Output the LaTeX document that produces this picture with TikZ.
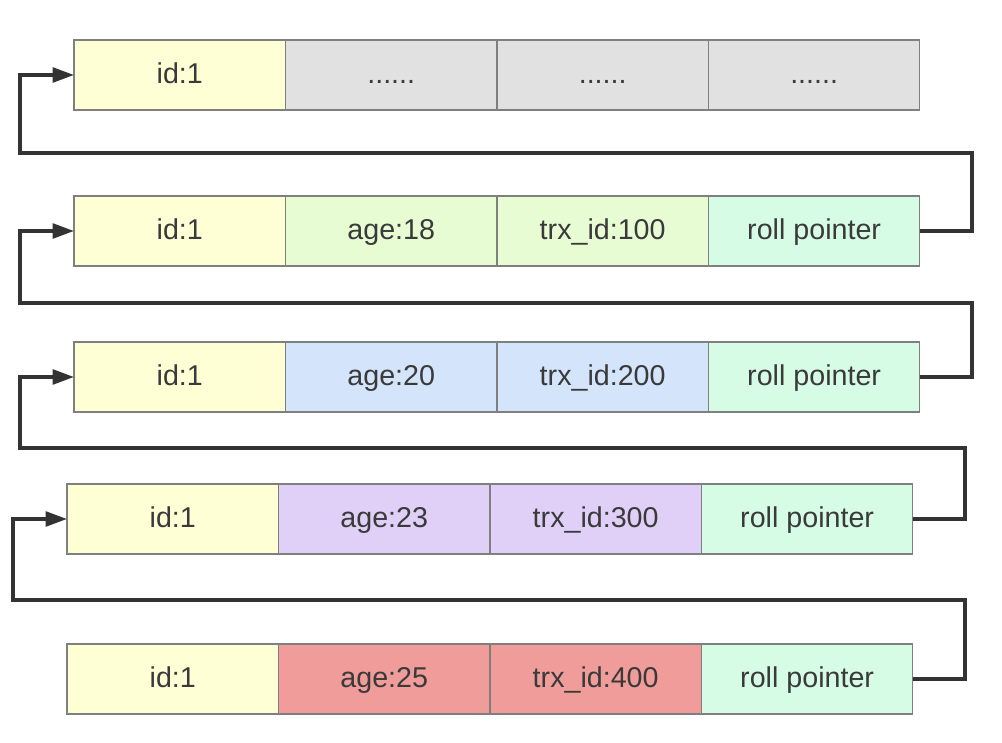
\documentclass[tikz,border=0pt]{standalone}
\usepackage{fontspec}
\setmainfont{Liberation Sans}
\usetikzlibrary{positioning,arrows.meta}
\definecolor{idyel}{HTML}{FFFFD6}
\definecolor{dotgray}{HTML}{E1E1E1}
\definecolor{agegreen}{HTML}{E8FCD4}
\definecolor{ageblue}{HTML}{D3E4FB}
\definecolor{agepurple}{HTML}{E0D0F8}
\definecolor{agered}{HTML}{EF9C9A}
\definecolor{rollmint}{HTML}{D6FCE6}
\definecolor{cellline}{HTML}{7F7F7F}
\definecolor{ptrline}{HTML}{333333}
\definecolor{txt}{HTML}{3A3A3A}
\tikzset{
node distance=0pt,
>={Triangle[length=16pt,width=11pt]},
cell/.style={draw=cellline,line width=0.9pt,rectangle,minimum width=158.6pt,minimum height=52.5pt,inner sep=0pt,outer sep=0pt,text=txt,text height=14pt,text depth=1pt,font=\fontsize{21.5}{25}\selectfont},
ptr/.style={->,draw=ptrline,line width=2.6pt}
}

\begin{document}
\begin{tikzpicture}[x=0.75pt,y=-0.75pt]
\useasboundingbox (0,0) rectangle (1002,742);

% row 1
\node[cell,fill=idyel]    (r1a) at (179.75,75) {id:1};
\node[cell,fill=dotgray]  (r1b) [right=of r1a] {......};
\node[cell,fill=dotgray]  (r1c) [right=of r1b] {......};
\node[cell,fill=dotgray]  (r1d) [right=of r1c] {......};

% row 2
\node[cell,fill=idyel]    (r2a) at (179.75,231) {id:1};
\node[cell,fill=agegreen] (r2b) [right=of r2a] {age:18};
\node[cell,fill=agegreen] (r2c) [right=of r2b] {trx\_id:100};
\node[cell,fill=rollmint] (r2d) [right=of r2c] {roll pointer};

% row 3
\node[cell,fill=idyel]    (r3a) at (179.75,377) {id:1};
\node[cell,fill=ageblue]  (r3b) [right=of r3a] {age:20};
\node[cell,fill=ageblue]  (r3c) [right=of r3b] {trx\_id:200};
\node[cell,fill=rollmint] (r3d) [right=of r3c] {roll pointer};

% row 4
\node[cell,fill=idyel]     (r4a) at (172.75,519) {id:1};
\node[cell,fill=agepurple] (r4b) [right=of r4a] {age:23};
\node[cell,fill=agepurple] (r4c) [right=of r4b] {trx\_id:300};
\node[cell,fill=rollmint]  (r4d) [right=of r4c] {roll pointer};

% row 5
\node[cell,fill=idyel]    (r5a) at (172.75,679) {id:1};
\node[cell,fill=agered]   (r5b) [right=of r5a] {age:25};
\node[cell,fill=agered]   (r5c) [right=of r5b] {trx\_id:400};
\node[cell,fill=rollmint] (r5d) [right=of r5c] {roll pointer};

% bends
\coordinate (b1) at (20,153);
\coordinate (b2) at (20,303);
\coordinate (b3) at (20,448);
\coordinate (b4) at (13,600);

\draw[ptr] (r2d.east) -- ++(52,0) |- (b1) |- (r1a.west);
\draw[ptr] (r3d.east) -- ++(52,0) |- (b2) |- (r2a.west);
\draw[ptr] (r4d.east) -- ++(52,0) |- (b3) |- (r3a.west);
\draw[ptr] (r5d.east) -- ++(52,0) |- (b4) |- (r4a.west);
\end{tikzpicture}
\end{document}
